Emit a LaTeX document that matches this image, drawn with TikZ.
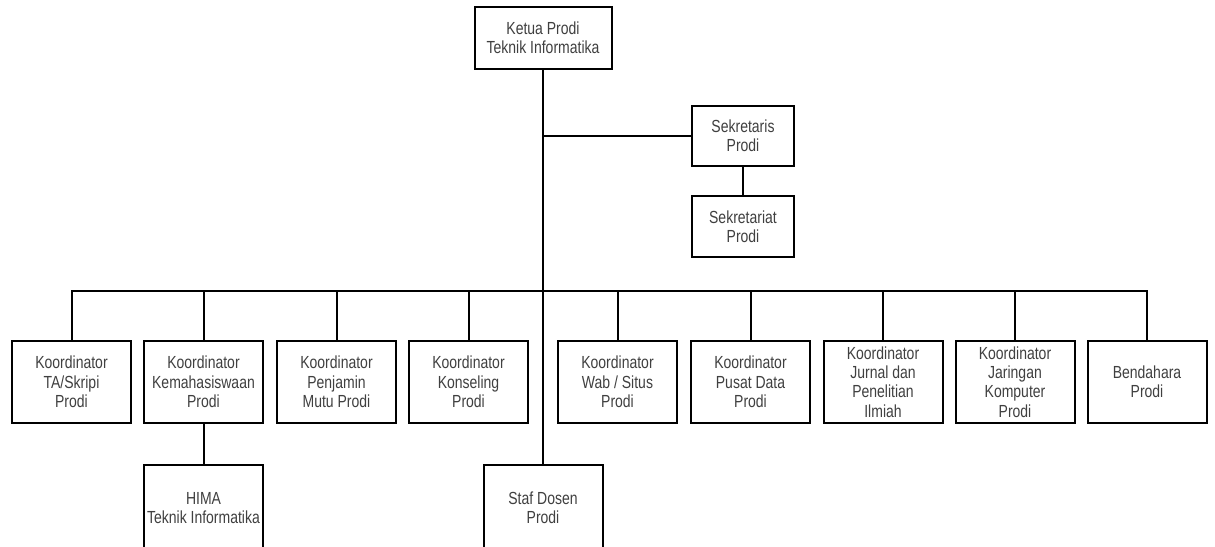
\documentclass[tikz,border=0pt]{standalone}
\usepackage{fontspec}
\setmainfont{Liberation Sans}[FakeStretch=0.8]
\begin{document}
\begin{tikzpicture}[x=1pt,y=-1pt,
  box/.style={draw=black, line width=2pt, fill=white, inner sep=0pt, align=center,
    minimum width=119pt, minimum height=82pt, text=black!75,
    font=\fontsize{17.5}{19.3}\selectfont},
  conn/.style={draw=black, line width=2pt}]
\useasboundingbox (0,0) rectangle (1215,546);
\clip (0,0) rectangle (1215,546);
% top
\node[box, minimum width=137pt, minimum height=62pt] (ketua) at (543,38) {Ketua Prodi\\Teknik Informatika};
\node[box, minimum width=102pt, minimum height=60pt] (sekr) at (743,136) {Sekretaris\\Prodi};
\node[box, minimum width=102pt, minimum height=61pt] (sekrt) at (743,226.5) {Sekretariat\\Prodi};
% second row
\node[box] (k1) at (71.5,382) {Koordinator\\TA/Skripi\\Prodi};
\node[box] (k2) at (203.5,382) {Koordinator\\Kemahasiswaan\\Prodi};
\node[box] (k3) at (336.5,382) {Koordinator\\Penjamin\\Mutu Prodi};
\node[box] (k4) at (468.5,382) {Koordinator\\Konseling\\Prodi};
\node[box] (k5) at (617.5,382) {Koordinator\\Wab / Situs\\Prodi};
\node[box] (k6) at (750.5,382) {Koordinator\\Pusat Data\\Prodi};
\node[box] (k7) at (883,382) {Koordinator\\Jurnal dan\\Penelitian\\Ilmiah};
\node[box] (k8) at (1015,382) {Koordinator\\Jaringan\\Komputer\\Prodi};
\node[box] (k9) at (1147,382) {Bendahara\\Prodi};
% third row
\node[box, minimum height=86pt] (hima) at (203.5,508) {HIMA\\Teknik Informatika};
\node[box, minimum height=86pt] (staf) at (543,508) {Staf Dosen\\Prodi};
\coordinate (bus) at (543,291);
% connectors
\draw[conn] (ketua.south) -- (staf.north);
\draw[conn] (sekr.west) -- (sekr.west -| ketua.south);
\draw[conn] (sekr.south) -- (sekrt.north);
\draw[conn] (k1.north) -- (k1.north |- bus) -- (k9.north |- bus) -- (k9.north);
\foreach \k in {k2,k3,k4,k5,k6,k7,k8}
  \draw[conn] (\k.north) -- (\k.north |- bus);
\draw[conn] (k2.south) -- (hima.north);
\end{tikzpicture}
\end{document}
